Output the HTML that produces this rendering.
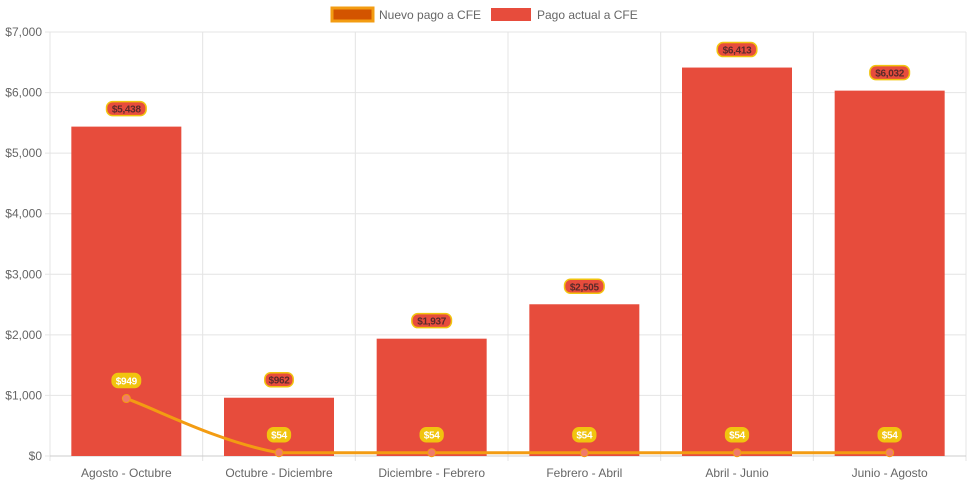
<!DOCTYPE html>
<html><head><meta charset="utf-8"><style>
body{margin:0;background:#fff;font-family:"Liberation Sans",sans-serif}
svg text{font-family:"Liberation Sans",sans-serif}
</style></head><body>
<svg id="c" width="971" height="485"></svg>
<script>
const categories=["Agosto - Octubre","Octubre - Diciembre","Diciembre - Febrero","Febrero - Abril","Abril - Junio","Junio - Agosto"];
const pagoActual=[5438,962,1937,2505,6413,6032];
const nuevoPago=[949,54,54,54,54,54];
const yTicks=[0,1000,2000,3000,4000,5000,6000,7000];
const L=50,R=966,T=32,B=456,maxY=7000;
const svg=document.getElementById('c');const NS='http://www.w3.org/2000/svg';
function el(t,a,p){const e=document.createElementNS(NS,t);for(const k in a)e.setAttribute(k,a[k]);(p||svg).appendChild(e);return e;}
const cw=(R-L)/categories.length;
const x=i=>L+cw*(i+0.5);
const y=v=>B-(v/maxY)*(B-T);
const fmt=v=>'$'+v.toLocaleString('en-US');
yTicks.forEach(t=>{
 const g=el('line',{x1:L-5,x2:R,y1:y(t),y2:y(t),stroke:'#e4e4e4'});
 
 const tx=el('text',{x:L-8,y:y(t)+4,'text-anchor':'end','font-size':12,fill:'#666'});tx.textContent=fmt(t);
 
});
for(let i=0;i<=categories.length;i++){
 const g=el('line',{x1:L+cw*i,x2:L+cw*i,y1:T,y2:B+5,stroke:'#e4e4e4'});
 
}
el('line',{x1:L,x2:R,y1:B,y2:B,stroke:'#ccc'});
categories.forEach((c,i)=>{
 const tx=el('text',{x:x(i),y:B+21,'text-anchor':'middle','font-size':12,fill:'#666'});tx.textContent=c;
 
});
const bw=110;
pagoActual.forEach((v,i)=>{
 const r=el('rect',{x:x(i)-bw/2,y:y(v),width:bw,height:B-y(v),fill:'#e74c3c'});
 
});
const pts=nuevoPago.map((v,i)=>[x(i),y(v)]);
let d='M'+pts[0][0]+','+pts[0][1];const tn=0.4;
for(let i=0;i<pts.length-1;i++){
 const p0=pts[Math.max(0,i-1)],p1=pts[i],p2=pts[i+1],p3=pts[Math.min(pts.length-1,i+2)];
 const lo=Math.min(p1[1],p2[1]),hi=Math.max(p1[1],p2[1]);
 const cl=v=>Math.max(lo,Math.min(hi,v));
 const c1=[p1[0]+(p2[0]-p0[0])*tn/2,cl(p1[1]+(p2[1]-p0[1])*tn/2)];
 const c2=[p2[0]-(p3[0]-p1[0])*tn/2,cl(p2[1]-(p3[1]-p1[1])*tn/2)];
 d+=` C${c1[0]},${c1[1]} ${c2[0]},${c2[1]} ${p2[0]},${p2[1]}`;
}
const ln=el('path',{d:d,fill:'none',stroke:'#f39c12','stroke-width':3});

pts.forEach(p=>{const c=el('circle',{cx:p[0],cy:p[1],r:4,fill:'#f07a6a',stroke:'#f39c12','stroke-width':1});
 });
function label(cx,cy,txt,bg,fg,name){
 const w=txt.length*5.6+6;
 const r=el('rect',{x:cx-w/2,y:cy-7,width:w,height:14,rx:6,fill:bg,stroke:'#f1c40f','stroke-width':1.5});
 
 const t=el('text',{x:cx,y:cy+4,'text-anchor':'middle','font-size':10,'font-weight':'bold',fill:fg,'letter-spacing':'-0.3'});t.textContent=txt;
 
}
pagoActual.forEach((v,i)=>label(x(i),y(v)-18,fmt(v),'#e74c3c','#5a2a2a','bar-value-label'));
nuevoPago.forEach((v,i)=>label(x(i),y(v)-18,fmt(v),'#f1c40f','#fff','line-value-label'));
const g1=el('rect',{x:332,y:8,width:41,height:13,fill:'#d35400',stroke:'#f39c12','stroke-width':3});

const t1=el('text',{x:379,y:19,'font-size':12,fill:'#666'});t1.textContent='Nuevo pago a CFE';

const g2=el('rect',{x:491,y:8,width:40,height:13,fill:'#e74c3c'});

const t2=el('text',{x:537,y:19,'font-size':12,fill:'#666'});t2.textContent='Pago actual a CFE';

</script>
</body></html>
